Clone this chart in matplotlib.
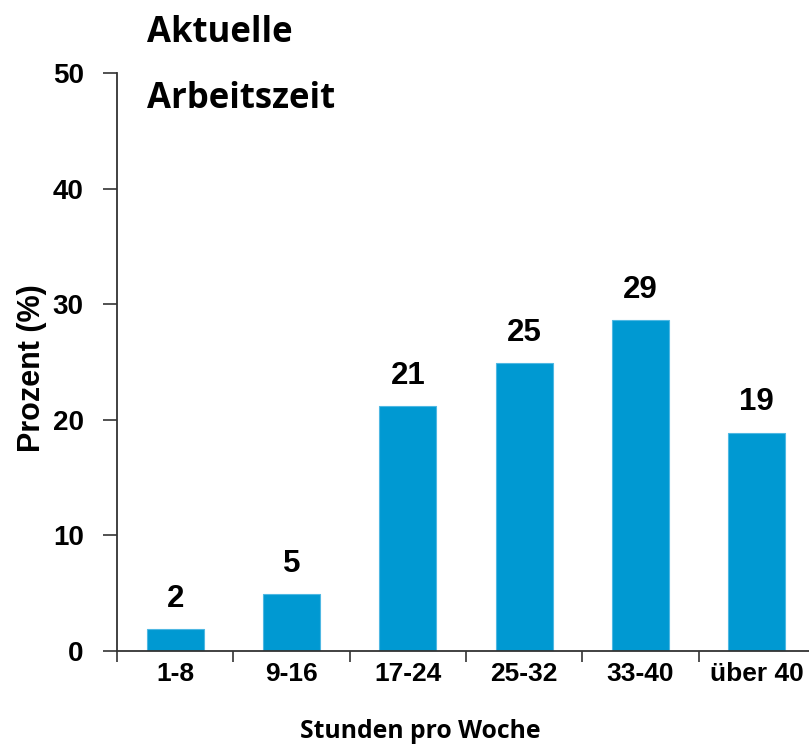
import matplotlib.pyplot as plt
import numpy as np

# data
categories = ['1-8', '9-16', '17-24', '25-32', '33-40', 'über 40']
values = [1.9, 4.9, 21.2, 24.9, 28.6, 18.9]
labels = ['2', '5', '21', '25', '29', '19']
yticks = [0, 10, 20, 30, 40, 50]

bar_color = '#0099D2'
arial = 'Liberation Sans'
calibri = 'Open Sans'

fig = plt.figure(figsize=(8.09, 7.48), dpi=100)
ax = fig.add_axes([117 / 809, 97 / 748, 698 / 809, 578 / 748])

x = np.arange(len(categories))
ax.bar(x, values, width=0.49, color=bar_color, edgecolor='#4FB8E3', linewidth=0.8, zorder=2)

# value labels above bars
for xi, v, lab in zip(x, values, labels):
    ax.annotate(lab, (xi, v), xytext=(0, 11), textcoords='offset points',
                ha='center', va='bottom', fontsize=22.5, fontweight='bold', family=arial)

ax.set_xlim(-0.5, 5.5)
ax.set_ylim(0, 50)
ax.set_yticks(yticks)
ax.set_yticklabels([str(t) for t in yticks], fontsize=20, fontweight='bold', family=arial)

# ticks between categories, labels at centres
ax.set_xticks(np.arange(-0.5, 6, 1))
ax.set_xticklabels([])
ax.set_xticks(x, minor=True)
ax.set_xticklabels(categories, minor=True, fontsize=19, fontweight='bold', family=arial)
ax.tick_params(axis='x', which='minor', length=0, pad=8)
ax.tick_params(axis='x', which='major', direction='out', length=8, width=1.2, color='#333333')
ax.tick_params(axis='y', direction='out', length=10, width=1.2, color='#333333', pad=14)

for s in ['top', 'right']:
    ax.spines[s].set_visible(False)
ax.spines['left'].set_linewidth(1.3)
ax.spines['left'].set_color('#333333')
ax.spines['bottom'].set_linewidth(1.3)
ax.spines['bottom'].set_color('#333333')

ax.set_ylabel('Prozent (%)', fontsize=22, fontweight='bold', family=arial)
ax.yaxis.set_label_coords(-0.10, 0.49)
fig.text(420 / 809, 1 - 732 / 748, 'Stunden pro Woche', ha='center', va='center',
         fontsize=17.8, fontweight='bold', family=calibri)

fig.text(147 / 809, 1 - 42 / 748, 'Aktuelle', ha='left', va='baseline',
         fontsize=25, fontweight='bold', family=calibri)
fig.text(147 / 809, 1 - 108 / 748, 'Arbeitszeit', ha='left', va='baseline',
         fontsize=25, fontweight='bold', family=calibri)

plt.savefig('out.png', dpi=100)
